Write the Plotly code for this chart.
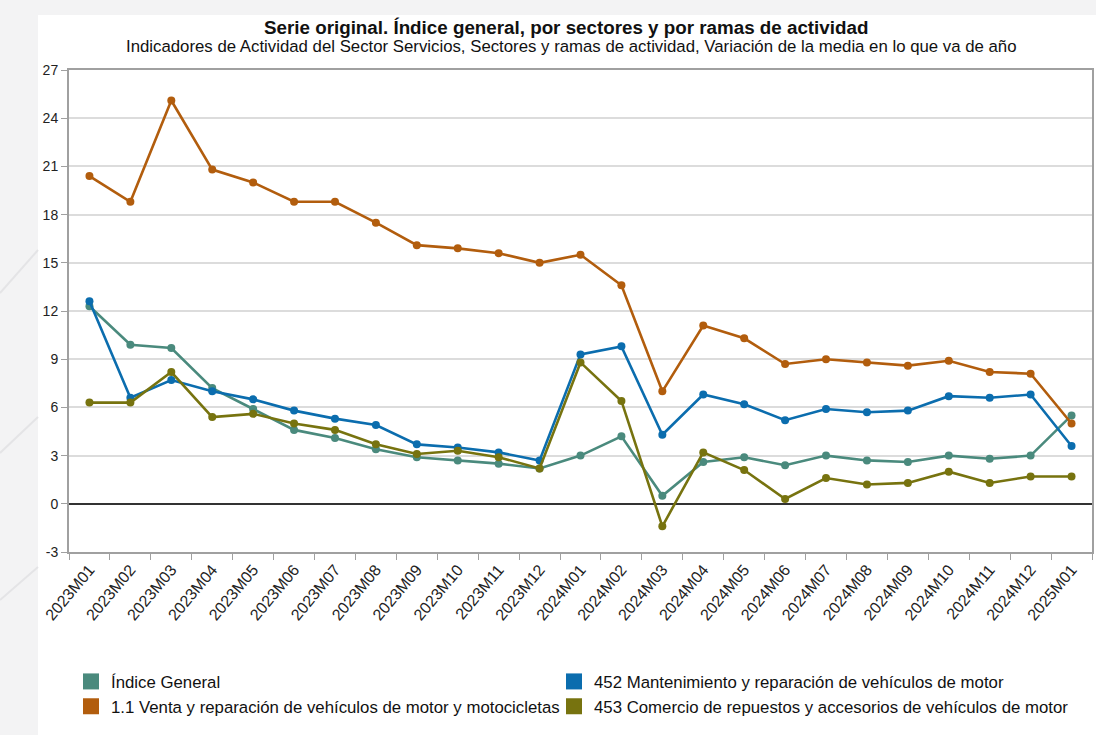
import plotly.graph_objects as go

months = ["2023M01","2023M02","2023M03","2023M04","2023M05","2023M06","2023M07","2023M08",
          "2023M09","2023M10","2023M11","2023M12","2024M01","2024M02","2024M03","2024M04",
          "2024M05","2024M06","2024M07","2024M08","2024M09","2024M10","2024M11","2024M12","2025M01"]

indice_general = [12.3, 9.9, 9.7, 7.2, 5.9, 4.6, 4.1, 3.4, 2.9, 2.7, 2.5, 2.2, 3.0, 4.2, 0.5,
                  2.6, 2.9, 2.4, 3.0, 2.7, 2.6, 3.0, 2.8, 3.0, 5.5]
venta_11 = [20.4, 18.8, 25.1, 20.8, 20.0, 18.8, 18.8, 17.5, 16.1, 15.9, 15.6, 15.0, 15.5, 13.6, 7.0,
            11.1, 10.3, 8.7, 9.0, 8.8, 8.6, 8.9, 8.2, 8.1, 5.0]
mant_452 = [12.6, 6.6, 7.7, 7.0, 6.5, 5.8, 5.3, 4.9, 3.7, 3.5, 3.2, 2.7, 9.3, 9.8, 4.3,
            6.8, 6.2, 5.2, 5.9, 5.7, 5.8, 6.7, 6.6, 6.8, 3.6]
com_453 = [6.3, 6.3, 8.2, 5.4, 5.6, 5.0, 4.6, 3.7, 3.1, 3.3, 2.9, 2.2, 8.8, 6.4, -1.4,
           3.2, 2.1, 0.3, 1.6, 1.2, 1.3, 2.0, 1.3, 1.7, 1.7]

y_tick_vals = [-3, 0, 3, 6, 9, 12, 15, 18, 21, 24, 27]
y_tick_text = ["-3", "0", "3", "6", "9", "12", "15", "18", "21", "24", "27"]

names = ["Índice General",
         "1.1 Venta y reparación de vehículos de motor y motocicletas",
         "452 Mantenimiento y reparación de vehículos de motor",
         "453 Comercio de repuestos y accesorios de vehículos de motor"]
colors = ["#4a8a7d", "#b25d0d", "#0b6dae", "#77730f"]
series = [indice_general, venta_11, mant_452, com_453]
legend_ids = ["legend", "legend", "legend2", "legend2"]

FONT = "Liberation Sans, Arial, sans-serif"

fig = go.Figure()
for name, color, vals in zip(names, colors, series):
    fig.add_trace(go.Scatter(
        x=months, y=vals, mode="lines+markers", name=name, showlegend=False,
        line=dict(color=color, width=2.6),
        marker=dict(color=color, size=8),
        hovertemplate="%{x}: %{y}<extra>" + name + "</extra>",
    ))
for name, color, lg in zip(names, colors, legend_ids):
    fig.add_trace(go.Scatter(
        x=[None], y=[None], mode="markers", name=name, legend=lg,
        marker=dict(symbol="square", size=17, color=color),
    ))

W, H = 1096, 735
L, R, T, B = 69, 4, 70, 183
pw, ph = W - L - R, H - T - B

def px(x):
    return (x - L) / pw

def py(y):
    return (H - B - y) / ph

shapes = [
    dict(type="rect", xref="paper", yref="paper", x0=px(38), x1=px(W + 5), y0=py(15), y1=py(H + 5),
         fillcolor="white", line=dict(width=0), layer="below"),
]
for (x0, y0, x1, y1) in [(0, 293, 38, 250), (0, 453, 38, 417), (0, 600, 38, 567)]:
    shapes.append(dict(type="line", xref="paper", yref="paper", x0=px(x0), y0=py(y0), x1=px(x1), y1=py(y1),
                       line=dict(color="#e4e4e6", width=2), layer="below"))

legend_style = dict(
    orientation="v", xanchor="left", yanchor="top", itemwidth=30,
    font=dict(size=16.8, color="#111", family=FONT), bgcolor="rgba(0,0,0,0)",
    traceorder="normal", itemclick=False, tracegroupgap=0,
)

fig.update_layout(
    width=W, height=H,
    margin=dict(l=L, r=R, t=T, b=B, autoexpand=False),
    paper_bgcolor="#f3f3f4",
    plot_bgcolor="white",
    font=dict(family=FONT, color="#222", size=12),
    shapes=shapes,
    annotations=[
        dict(text="<b>Serie original. Índice general, por sectores y por ramas de actividad</b>",
             xref="paper", yref="paper", x=px(566), y=py(27), xanchor="center", yanchor="middle",
             showarrow=False, font=dict(size=18.8, color="#111", family=FONT)),
        dict(text="Indicadores de Actividad del Sector Servicios, Sectores y ramas de actividad, Variación de la media en lo que va de año",
             xref="paper", yref="paper", x=px(571), y=py(47), xanchor="center", yanchor="middle",
             showarrow=False, font=dict(size=16.8, color="#111", family=FONT)),
    ],
    xaxis=dict(
        type="category", range=[-0.5, 24.5], tickangle=-50,
        showline=True, linecolor="#a0a0a0", linewidth=2, mirror=True,
        ticks="outside", tickson="boundaries", ticklen=6, tickcolor="#a0a0a0",
        showgrid=False, tickfont=dict(size=16, color="#222"),
    ),
    yaxis=dict(
        range=[-3, 27], tickvals=y_tick_vals, ticktext=y_tick_text,
        showline=True, linecolor="#a0a0a0", linewidth=2, mirror=True,
        ticks="outside", ticklen=6, tickcolor="#a0a0a0",
        gridcolor="#dcdcdc", gridwidth=1.5,
        zeroline=True, zerolinecolor="#333", zerolinewidth=1.5,
        tickfont=dict(size=14, color="#222"),
    ),
    legend=dict(x=px(71), y=py(664), **legend_style),
    legend2=dict(x=px(554), y=py(664), **legend_style),
    showlegend=True,
)

fig.write_html("out.html", config={"displayModeBar": False},
               post_script="document.body.style.margin='0';document.body.style.overflow='hidden';")
